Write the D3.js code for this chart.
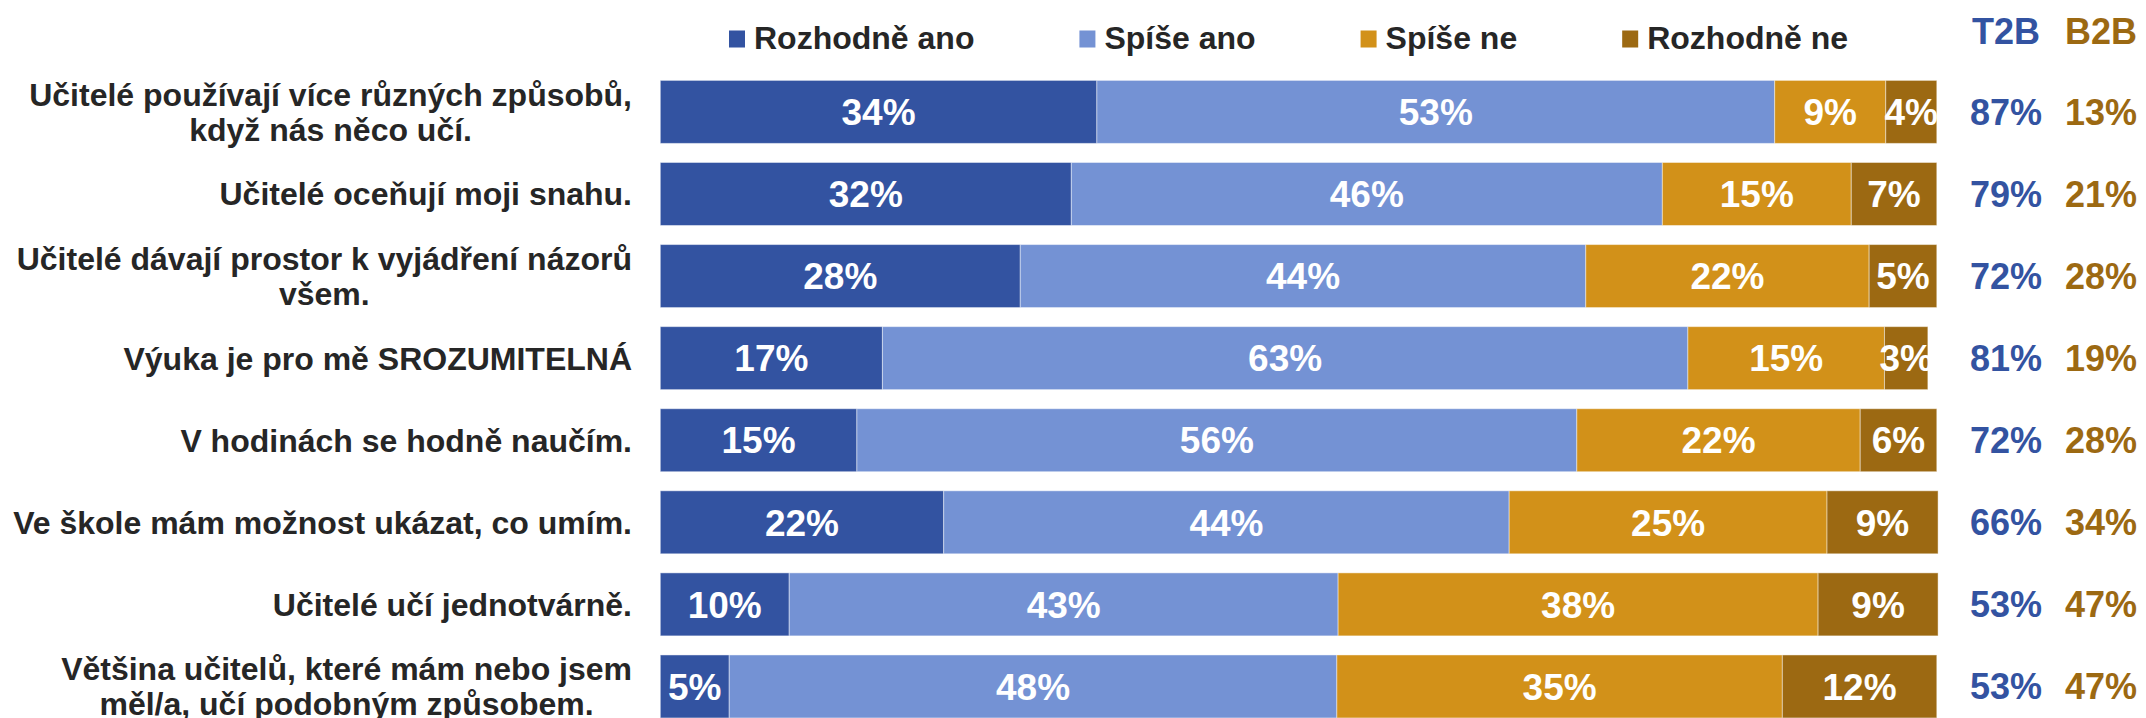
<!DOCTYPE html>
<html>
<head>
<meta charset="utf-8">
<script src="https://cdn.jsdelivr.net/npm/d3@7"></script>
<style>
  html, body { margin: 0; padding: 0; background: #ffffff; }
  svg { display: block; }
  text { font-family: "Liberation Sans", Arial, sans-serif; font-weight: bold; }
</style>
</head>
<body>
<svg id="chart" width="2146" height="718"></svg>
<script>
// ---- data ----
const categories = [
  ["Učitelé používají více různých způsobů,", "když nás něco učí."],
  ["Učitelé oceňují moji snahu."],
  ["Učitelé dávají prostor k vyjádření názorů", "všem."],
  ["Výuka je pro mě SROZUMITELNÁ"],
  ["V hodinách se hodně naučím."],
  ["Ve škole mám možnost ukázat, co umím."],
  ["Učitelé učí jednotvárně."],
  ["Většina učitelů, které mám nebo jsem", "měl/a, učí podobným způsobem."]
];
const seriesNames = ["Rozhodně ano", "Spíše ano", "Spíše ne", "Rozhodně ne"];
const rozhodneAno = [34.2, 32.2, 28.2, 17.4, 15.4, 22.2, 10.1, 5.4];
const spiseAno    = [53.1, 46.3, 44.3, 63.1, 56.4, 44.3, 43.0, 47.6];
const spiseNe     = [8.7, 14.8, 22.2, 15.4, 22.2, 24.9, 37.6, 34.9];
const rozhodneNe  = [4.0, 6.7, 5.3, 3.4, 6.0, 8.7, 9.4, 12.1];
const t2b = [87, 79, 72, 81, 72, 66, 53, 53];
const b2b = [13, 21, 28, 19, 28, 34, 47, 47];
const summaryHeaders = ["T2B", "B2B"];

// ---- styles ----
const colors = ["#3353A1", "#7492D4", "#D29119", "#9C6912"];
const t2bColor = "#3353A1";
const b2bColor = "#9C6912";
const textColor = "#262626";

const svg = d3.select("#chart");

const rows = categories.map((c, i) => ({
  idx: i,
  "Rozhodně ano": rozhodneAno[i],
  "Spíše ano": spiseAno[i],
  "Spíše ne": spiseNe[i],
  "Rozhodně ne": rozhodneNe[i]
}));

const x = d3.scaleLinear().domain([0, 100]).range([660.3, 1936.8]);
const y = d3.scaleBand()
  .domain(d3.range(categories.length))
  .range([70.86, 727.5])
  .paddingInner(0.2325)
  .paddingOuter(0.11625);

const stack = d3.stack().keys(seriesNames);
const stacked = stack(rows);

const gBars = svg.append("g");
const layers = gBars.selectAll("g.layer")
  .data(stacked)
  .join("g")
  .attr("class", "layer")
  .attr("fill", (d, i) => colors[i]);

layers.selectAll("rect")
  .data(d => d)
  .join("rect")
  .attr("x", d => x(d[0]))
  .attr("y", d => y(d.data.idx))
  .attr("width", d => x(d[1]) - x(d[0]))
  .attr("height", y.bandwidth())
  .attr("stroke", "#ffffff")
  .attr("stroke-opacity", 0.45)
  .attr("stroke-width", 1);

// segment labels
const segFont = 37;
layers.selectAll("text")
  .data(d => d.map(v => ({ v, key: d.key })))
  .join("text")
  .attr("x", d => (x(d.v[0]) + x(d.v[1])) / 2)
  .attr("y", d => y(d.v.data.idx) + y.bandwidth() / 2 + segFont * 0.358)
  .attr("text-anchor", "middle")
  .attr("fill", "#ffffff")
  .style("font-size", segFont + "px")
  .text(d => Math.round(d.v.data[d.key]) + "%");

// category labels
const catFont = 32;
const lineH = 35;
const labelRight = 632;
const gCat = svg.append("g");
categories.forEach((lines, i) => {
  const cy = y(i) + y.bandwidth() / 2;
  const t = gCat.append("text")
    .attr("fill", textColor)
    .attr("text-anchor", "middle")
    .style("font-size", catFont + "px");
  lines.forEach((ln, j) => {
    t.append("tspan")
      .attr("y", cy + (j - (lines.length - 1) / 2) * lineH + catFont * 0.358)
      .text(ln);
  });
  let w = 0;
  t.selectAll("tspan").each(function () { w = Math.max(w, this.getComputedTextLength()); });
  t.selectAll("tspan").attr("x", labelRight - w / 2);
});

// legend
const legFont = 32;
let lx = 729;
const gLeg = svg.append("g");
seriesNames.forEach((name, i) => {
  gLeg.append("rect")
    .attr("x", lx).attr("y", 30.5)
    .attr("width", 16).attr("height", 17)
    .attr("fill", colors[i]);
  const t = gLeg.append("text")
    .attr("x", lx + 25).attr("y", 48.5)
    .attr("fill", textColor)
    .style("font-size", legFont + "px")
    .text(name);
  lx = lx + 25 + t.node().getComputedTextLength() + 105;
});

// T2B / B2B
const sumFont = 36;
const sumX = [2006, 2101];
const sumColors = [t2bColor, b2bColor];
summaryHeaders.forEach((h, k) => {
  svg.append("text")
    .attr("x", sumX[k]).attr("y", 43.5)
    .attr("text-anchor", "middle")
    .attr("fill", sumColors[k])
    .style("font-size", sumFont + "px")
    .text(h);
});
[t2b, b2b].forEach((arr, k) => {
  svg.append("g").selectAll("text")
    .data(arr)
    .join("text")
    .attr("x", sumX[k])
    .attr("y", (d, i) => y(i) + y.bandwidth() / 2 + sumFont * 0.358)
    .attr("text-anchor", "middle")
    .attr("fill", sumColors[k])
    .style("font-size", sumFont + "px")
    .text(d => d + "%");
});
</script>
</body>
</html>
